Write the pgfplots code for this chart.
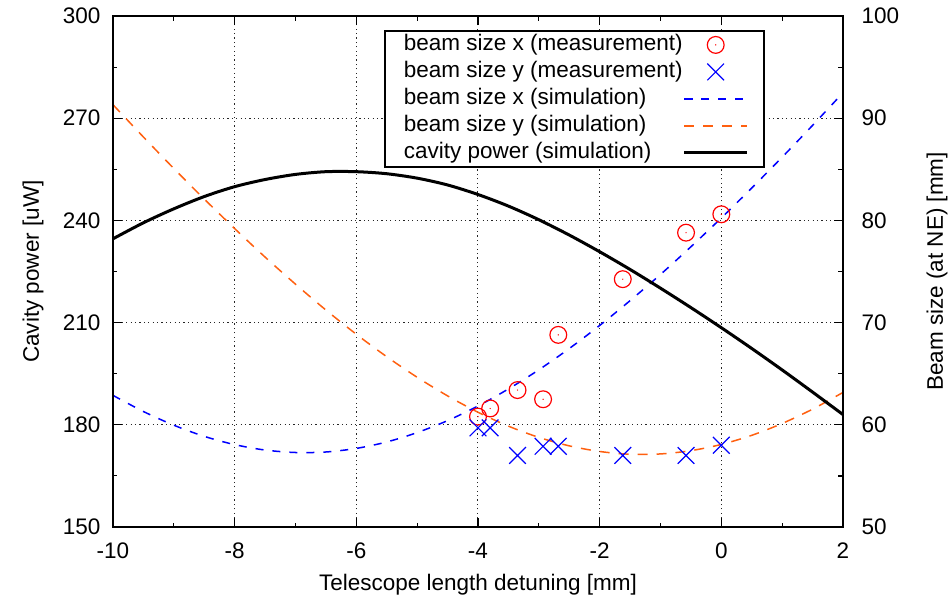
\documentclass[border=0pt]{standalone}
\usepackage{fontspec}
\setmainfont{Liberation Sans}
\usepackage{pgfplots}
\pgfplotsset{compat=1.18}
\usepackage{pgfplotstable}

\definecolor{mred}{RGB}{255,0,0}
\definecolor{mblue}{RGB}{0,0,255}
\definecolor{morange}{RGB}{255,96,16}

\pgfdeclareplotmark{circdot}{%
  \pgfpathcircle{\pgfpointorigin}{\pgfplotmarksize}\pgfusepathqstroke
  \pgfpathcircle{\pgfpointorigin}{0.35pt}\pgfusepathqfill}

% measurements: x, beam size x, beam size y [mm]
\pgfplotstableread{
x     bx     by
-4.00 60.8   59.7
-3.80 61.6   59.7
-3.35 63.4   57.0
-2.93 62.5   57.9
-2.68 68.8   57.9
-1.62 74.25  57.0
-0.58 78.8   57.0
0.00  80.6   58.0
}\meas

% simulation: beam sizes [mm]
\pgfplotstableread{
x     sx     sy
-10.0 62.88  91.32
-9.5  61.30  88.16
-9.0  59.96  85.08
-8.5  58.87  82.09
-8.0  58.06  79.20
-7.5  57.53  76.41
-7.0  57.29  73.76
-6.5  57.34  71.23
-6.0  57.69  68.86
-5.5  58.32  66.66
-5.0  59.24  64.65
-4.5  60.41  62.83
-4.0  61.84  61.23
-3.5  63.51  59.87
-3.0  65.38  58.77
-2.5  67.46  57.94
-2.0  69.72  57.39
-1.5  72.15  57.12
-1.0  74.71  57.15
-0.5  77.42  57.47
0.0   80.24  58.08
0.5   83.17  58.97
1.0   86.19  60.13
1.5   89.30  61.53
2.0   92.49  63.17
}\simbeam

% simulation: cavity power [uW]
\pgfplotstableread{
x     p
-10.0 234.6
-9.5  239.3
-9.0  243.4
-8.5  247.0
-8.0  249.9
-7.5  252.0
-7.0  253.5
-6.5  254.3
-6.0  254.3
-5.5  253.7
-5.0  252.4
-4.5  250.4
-4.0  247.6
-3.5  244.2
-3.0  240.2
-2.5  235.7
-2.0  230.8
-1.5  225.6
-1.0  220.1
-0.5  214.4
0.0   208.5
0.5   202.4
1.0   196.1
1.5   189.6
2.0   183.0
}\power

\begin{document}
\begin{tikzpicture}
\path[use as bounding box] (-56.5pt,-34.5pt) rectangle (418.5pt,263.5pt);
\pgfplotsset{
  every axis/.append style={
    font=\fontsize{11.25}{13.5}\selectfont,
    scale only axis, width=365pt, height=255.5pt,
    xmin=-10, xmax=2,
    tick align=inside,
    major tick length=4.5pt, minor tick length=2.25pt,
    axis line style={line width=0.9pt},
    every tick/.style={black, line width=0.6pt},
    /pgf/number format/assume math mode=true,
  },
}
% beam size axis (right)
\begin{axis}[
  ymin=50, ymax=100,
  xtick={-10,-8,...,2}, minor x tick num=1,
  ytick={50,60,...,100}, minor y tick num=1,
  ytick pos=right, yticklabel pos=right,
  xticklabel style={yshift=-4.5pt},
  yticklabel style={xshift=5.75pt},
  grid=major,
  grid style={black!85, line width=0.5pt, dash pattern=on 0.6pt off 1.6pt},
  xlabel={Telescope length detuning [mm]},
  xlabel style={at={(axis description cs:0.5,-0.1135)}, anchor=center},
  ylabel={Beam size (at NE) [mm]},
  ylabel style={at={(axis description cs:1.1288,0.5)}, anchor=center, rotate=0},
  legend plot pos=right,
  legend cell align=left,
  legend style={at={(axis description cs:0.3712,0.9726)}, anchor=north west,
    draw=black, line width=0.9pt, fill=white,
    inner xsep=7.5pt, inner ysep=1.5pt,
    row sep=2.5pt,
    nodes={inner sep=0pt, text height=8.5pt, text depth=2.5pt, line width=0.6pt},
    /tikz/every even column/.append style={column sep=14pt},
  },
  legend image code/.code={%
    \draw[mark repeat=2, mark phase=2] plot coordinates {(0pt,0pt) (15.75pt,0pt) (31.5pt,0pt)};},
]
\addplot[only marks, mark=circdot, mark size=4.2pt, color=mred, line width=0.6pt]
  table[x=x, y=bx] {\meas};
\addlegendentry{\hspace*{2pt}beam size x (measurement)}
\addplot[only marks, mark=x, mark size=5.9pt, color=mblue, line width=0.6pt]
  table[x=x, y=by] {\meas};
\addlegendentry{\hspace*{2pt}beam size y (measurement)}
\addplot[smooth, no marks, color=mblue, line width=0.75pt, dash pattern=on 4pt off 4.5pt]
  table[x=x, y=sx] {\simbeam};
\addlegendentry{\hspace*{2pt}beam size x (simulation)}
\addplot[smooth, no marks, color=morange, line width=0.75pt, dash pattern=on 5pt off 4.5pt]
  table[x=x, y=sy] {\simbeam};
\addlegendentry{\hspace*{2pt}beam size y (simulation)}
\addlegendimage{black, line width=1.5pt}
\addlegendentry{\hspace*{2pt}cavity power (simulation)}
\end{axis}
% cavity power axis (left)
\begin{axis}[
  ymin=150, ymax=300,
  ytick={150,180,...,300}, minor y tick num=1,
  ytick pos=left, yticklabel pos=left,
  hide x axis,
  yticklabel style={xshift=-2.75pt},
  ylabel={Cavity power [uW]},
  ylabel style={at={(axis description cs:-0.1096,0.5)}, anchor=center},
]
\addplot[smooth, no marks, black, line width=1.5pt] table[x=x, y=p] {\power};
\end{axis}
\end{tikzpicture}
\end{document}
